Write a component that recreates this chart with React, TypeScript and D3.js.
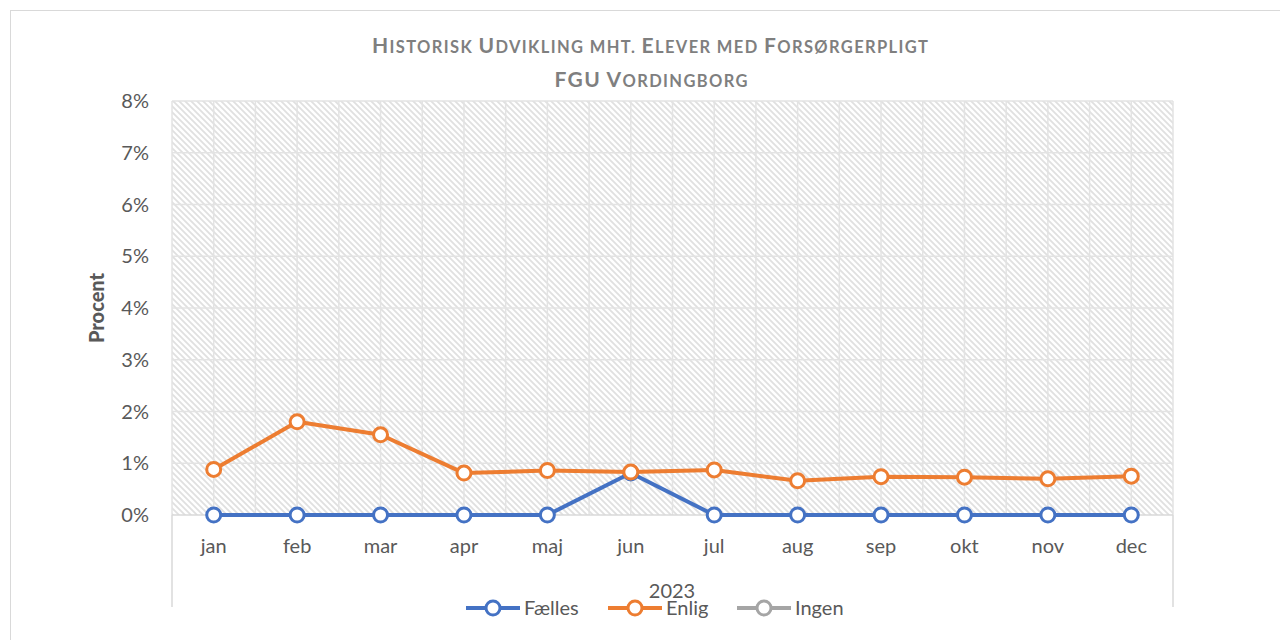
import React from "react";
import * as d3 from "d3";

const months = ["jan", "feb", "mar", "apr", "maj", "jun", "jul", "aug", "sep", "okt", "nov", "dec"];
const faelles = [0, 0, 0, 0, 0, 0.81, 0, 0, 0, 0, 0, 0];
const enlig = [0.88, 1.8, 1.55, 0.81, 0.86, 0.83, 0.87, 0.66, 0.74, 0.73, 0.7, 0.75];
const ingen: (number | null)[] = [null, null, null, null, null, null, null, null, null, null, null, null];
const yTicks = [0, 1, 2, 3, 4, 5, 6, 7, 8];
const titleLines = ["Historisk Udvikling mht. Elever med Forsørgerpligt", "FGU Vordingborg"];

const series = [
  { name: "Fælles", color: "#4472C4", values: faelles },
  { name: "Enlig", color: "#ED7D31", values: enlig },
  { name: "Ingen", color: "#A5A5A5", values: ingen },
];

const FONT = "Lato, 'Open Sans', sans-serif";
const TXT = "#595959";

// manual small caps: capitals full size, lower case as smaller capitals
function smallCaps(s: string) {
  return s.split("").map((ch, i) => {
    const up = ch.toUpperCase();
    const isCap = ch === up && ch !== ch.toLowerCase();
    return (
      <tspan key={i} fontSize={isCap ? 21 : 16.5}>
        {up}
      </tspan>
    );
  });
}

export default function App() {
  const left = 172;
  const right = 1173;
  const top = 101;
  const bottom = 515;

  const x = d3.scaleBand<string>().domain(months).range([left, right]);
  const y = d3.scaleLinear().domain([0, 8]).range([bottom, top]);
  const cx = (m: string) => (x(m) as number) + x.bandwidth() / 2;

  const line = d3
    .line<number | null>()
    .defined((d) => d != null)
    .x((_, i) => cx(months[i]))
    .y((d) => y(d as number));

  // vertical grid: at category edges and centres
  const vLines: number[] = [];
  months.forEach((m) => {
    vLines.push(x(m) as number);
    vLines.push(cx(m));
  });
  vLines.push(right);

  const legendX = [466, 608, 737];

  return (
    <svg width={1280} height={640} style={{ position: "absolute", left: 0, top: 0, background: "#fff" }}>
      <defs>
        <pattern id="hatch" width={6} height={6} patternUnits="userSpaceOnUse">
          <rect width={6} height={6} fill="#fff" />
          <path d="M-1,-1 L7,7 M-1,5 L1,7 M5,-1 L7,1" stroke="#e0e0e0" strokeWidth={1.8} />
        </pattern>
      </defs>
      <rect x={10.5} y={10.5} width={1400} height={800} fill="#fff" stroke="#d9d9d9" />

      <text x={650} y={53} textAnchor="middle" fontFamily={FONT} fontWeight="bold"
        fill="#7f7f7f" textLength={556} lengthAdjust="spacing">
        {smallCaps(titleLines[0])}
      </text>
      <text x={651} y={87} textAnchor="middle" fontFamily={FONT} fontWeight="bold"
        fill="#7f7f7f" textLength={193} lengthAdjust="spacing">
        {smallCaps(titleLines[1])}
      </text>

      <rect x={left} y={top} width={right - left} height={bottom - top} fill="url(#hatch)" />

      {vLines.map((v, i) => (
        <line key={"v" + i} x1={v} x2={v} y1={top} y2={bottom} stroke="#e3e3e3" strokeWidth={1.5} />
      ))}
      {yTicks.map((t) => (
        <line key={"h" + t} x1={left} x2={right} y1={y(t)} y2={y(t)} stroke={t === 0 ? "#d9d9d9" : "#e3e3e3"} strokeWidth={1.5} />
      ))}

      {yTicks.map((t) => (
        <text key={"yt" + t} x={149} y={y(t) + 7} textAnchor="end" fontFamily={FONT} fontSize={20} fill={TXT}>
          {t + "%"}
        </text>
      ))}
      <text transform={`translate(104,${(top + bottom) / 2}) rotate(-90)`} textAnchor="middle"
        fontFamily={FONT} fontWeight="900" fontSize={20} fill={TXT}>
        Procent
      </text>

      {months.map((m) => (
        <text key={"xt" + m} x={cx(m)} y={553} textAnchor="middle" fontFamily={FONT} fontSize={20} fill={TXT}>
          {m}
        </text>
      ))}
      <line x1={left} x2={left} y1={bottom} y2={607} stroke="#d9d9d9" strokeWidth={1.5} />
      <line x1={right} x2={right} y1={bottom} y2={607} stroke="#d9d9d9" strokeWidth={1.5} />
      <text x={672} y={598} textAnchor="middle" fontFamily={FONT} fontSize={20} fill={TXT}>2023</text>

      {series.map((s) => (
        <g key={s.name}>
          <path d={line(s.values) || ""} fill="none" stroke={s.color} strokeWidth={4} strokeLinejoin="round" />
          {s.values.map((v, i) =>
            v == null ? null : (
              <circle key={i} cx={cx(months[i])} cy={y(v)} r={7} fill="#fff" stroke={s.color} strokeWidth={3} />
            )
          )}
        </g>
      ))}

      {series.map((s, i) => (
        <g key={"lg" + s.name} transform={`translate(${legendX[i]},608)`}>
          <line x1={0} x2={54} y1={0} y2={0} stroke={s.color} strokeWidth={4} />
          <circle cx={27} cy={0} r={7} fill="#fff" stroke={s.color} strokeWidth={3} />
          <text x={58} y={7} fontFamily={FONT} fontSize={20} fill={TXT}>{s.name}</text>
        </g>
      ))}
    </svg>
  );
}
